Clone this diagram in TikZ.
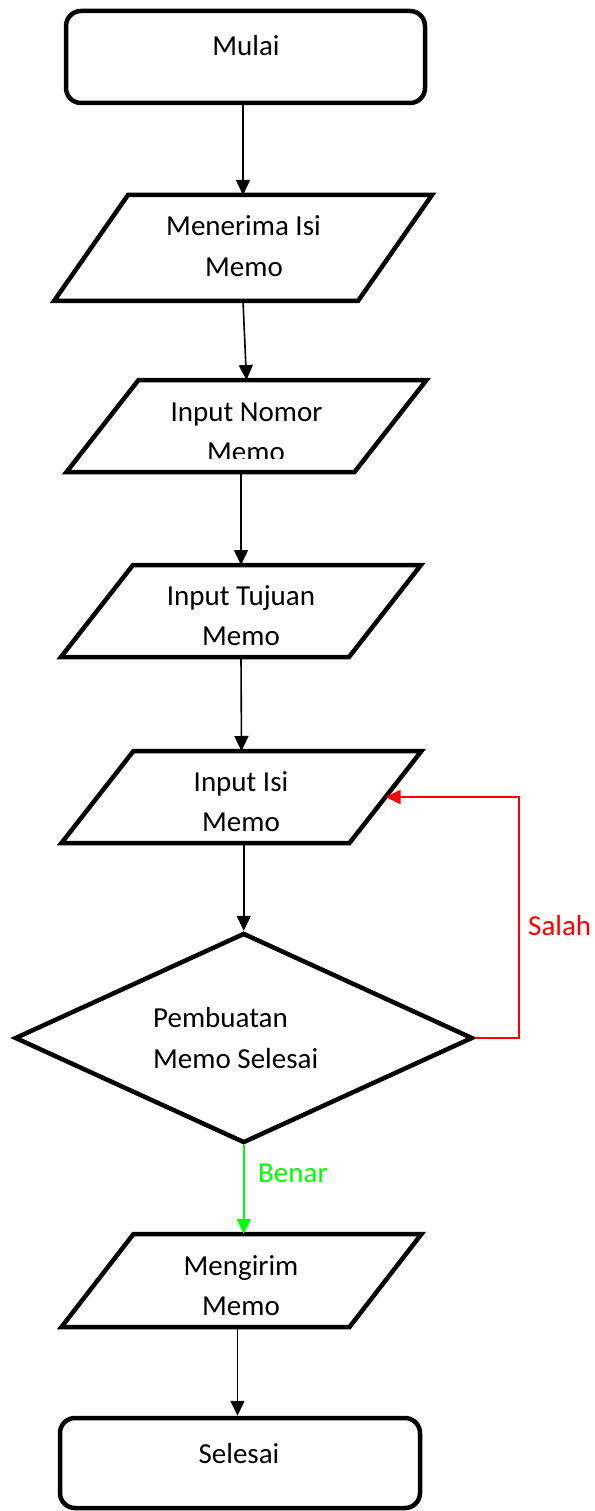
\documentclass[tikz,border=0pt]{standalone}
\usepackage{fontspec}
\setmainfont{Carlito}
\usetikzlibrary{shapes.geometric,arrows.meta}

% outline of a data (input/output) box around a placeholder node
\newcommand{\iodraw}[2]{%
  \draw[line width=4.5pt] ([xshift=#2]#1.north west) -- (#1.north east)
    -- ([xshift=-#2]#1.south east) -- (#1.south west) -- cycle;}

\begin{document}
\begin{tikzpicture}[x=1pt,y=-1pt,
  terminal/.style={draw, line width=4.5pt, rounded corners=15pt, inner sep=0pt,
    minimum width=#1, minimum height=92pt},
  iobox/.style={inner sep=0pt, outer sep=0pt, minimum width=360pt, minimum height=#1},
  decision/.style={draw, line width=4.5pt, shape=diamond, inner sep=0pt,
    minimum width=458pt, minimum height=210pt},
  lbl/.style={font=\fontsize{29}{40}\selectfont, anchor=base, inner sep=0pt},
  flow/.style={line width=1.6pt, -{Triangle[width=14pt,length=15pt]}},
]
\useasboundingbox (0,0) rectangle (594,1511);

% shapes
\node[terminal=359pt] (start) at (245.5,57) {};
\node[iobox=106pt, minimum width=378pt] (recv) at (243,248) {};
\iodraw{recv}{74pt}
\node[iobox=92pt] (nomor) at (246.5,426) {};
\iodraw{nomor}{72pt}
\node[iobox=92pt] (tujuan) at (241,611) {};
\iodraw{tujuan}{72pt}
\node[iobox=92pt] (isi) at (241.5,797) {};
\iodraw{isi}{72pt}
\node[decision] (done) at (243.75,1038) {};
\node[iobox=93pt] (send) at (241.5,1280.5) {};
\iodraw{send}{72pt}
\node[terminal=360pt, minimum height=90pt] (stop) at (240,1463) {};

% texts
\node[lbl] (tstart) at (246,56) {Mulai};
\node[lbl] (trecv1) at (243.5,236) {Menerima Isi};
\node[lbl] (trecv2) at (244,277) {Memo};
\node[lbl] (tnomor1) at (246.5,421) {Input Nomor};
\begin{scope}
  \clip (0,0) rectangle (594,458);
  \node[lbl] (tnomor2) at (246,461) {Memo};
\end{scope}
\node[lbl] (ttujuan1) at (241,605) {Input Tujuan};
\node[lbl] (ttujuan2) at (241,645) {Memo};
\node[lbl] (tisi1) at (241,791) {Input Isi};
\node[lbl] (tisi2) at (241,831) {Memo};
\node[lbl, anchor=base west] (tdone1) at (153,1027) {Pembuatan};
\node[lbl, anchor=base west] (tdone2) at (153,1068) {Memo Selesai};
\node[lbl] (tsend1) at (241,1275) {Mengirim};
\node[lbl] (tsend2) at (241,1315) {Memo};
\node[lbl] (tstop) at (239,1463) {Selesai};
\node[lbl, anchor=base west, text=red] (tsalah) at (528,935) {Salah};
\node[lbl, anchor=base west, text=green] (tbenar) at (258,1182) {Benar};

% connectors
\coordinate (loopx) at (519,0);
\coordinate (isiR) at ([xshift=-36pt]isi.east);
\draw[flow] (recv.north |- start.south) -- (recv.north);
\draw[flow] (recv.south) -- (nomor.north);
\draw[flow] (tujuan.north |- nomor.south) -- (tujuan.north);
\draw[flow] (tujuan.south) -- (isi.north);
\draw[flow] (done.north |- isi.south) -- (done.north);
\draw[flow, red] (done.east) -| (loopx |- isiR) -- (isiR);
\draw[flow, green] (done.south) -- (done.south |- send.north);
\draw[flow] ([xshift=-4pt]send.south) -- ([xshift=-4pt]send.south |- stop.north);
\end{tikzpicture}
\end{document}
